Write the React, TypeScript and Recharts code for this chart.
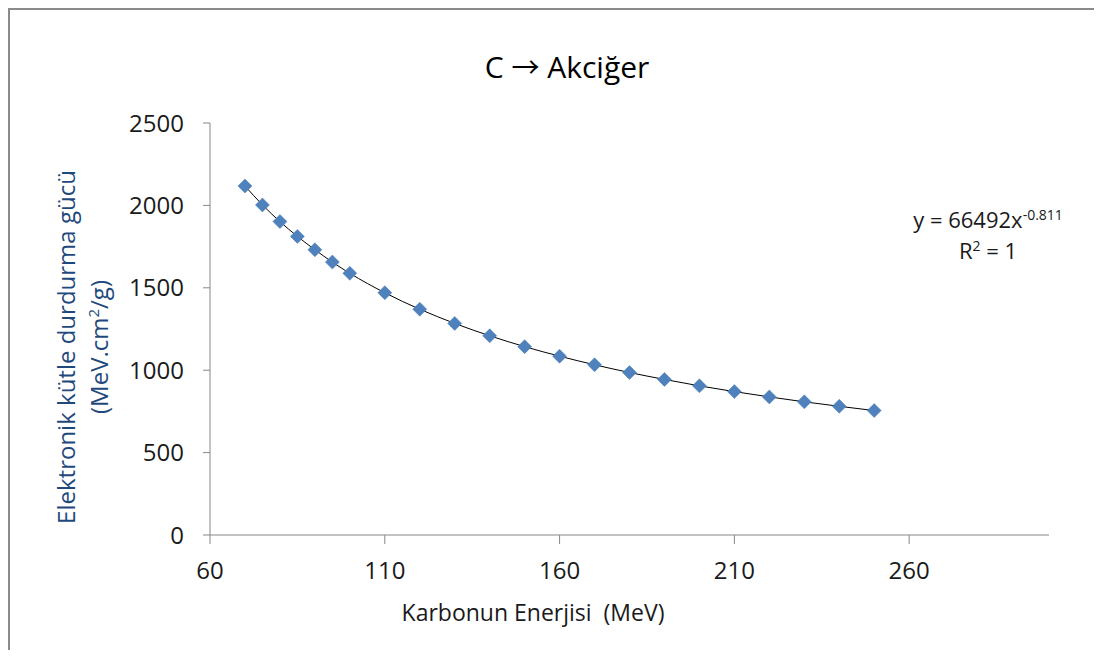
import React from 'react';
import { ComposedChart, Scatter, Line, XAxis, YAxis } from 'recharts';

// carbon energy (MeV) vs electronic mass stopping power in lung
const energies = [70, 75, 80, 85, 90, 95, 100, 110, 120, 130, 140, 150, 160, 170, 180, 190, 200, 210, 220, 230, 240, 250];
const stoppingPower = [2118, 2003, 1902, 1812, 1731, 1656, 1588, 1470, 1370, 1284, 1209, 1143, 1085, 1033, 986, 944, 905, 870, 838, 808, 781, 755];
const xTicks = [60, 110, 160, 210, 260];
const yTicks = [0, 500, 1000, 1500, 2000, 2500];

const data = energies.map((e, i) => ({ energy: e, power: stoppingPower[i] }));

const FONT = '"Open Sans", "Noto Sans", sans-serif';
const AXIS_GREY = '#878787';

const Diamond = (props: any) => {
  const { cx, cy } = props;
  if (cx == null || cy == null) return null;
  const r = 7;
  return (
    <polygon
      points={`${cx},${cy - r} ${cx + r},${cy} ${cx},${cy + r} ${cx - r},${cy}`}
      fill="#4F81BD"
      stroke="#4A7EBB"
      strokeWidth={0.5}
    />
  );
};

const App: React.FC = () => {
  return (
    <div style={{ position: 'relative', width: 1102, height: 658, margin: -8, background: '#fff', fontFamily: FONT, overflow: 'hidden' }}>
      {/* outer frame, bottom edge is outside the picture */}
      <div style={{ position: 'absolute', left: 7, top: 7, width: 1092, height: 700, border: '3px solid #8a8a8a', borderBottom: 'none' }} />

      <div style={{ position: 'absolute', left: 0, top: 0 }}>
        <ComposedChart width={1102} height={658} data={data} margin={{ top: 123, right: 53, bottom: 63, left: 80 }}>
          <XAxis
            type="number"
            dataKey="energy"
            domain={[60, 300]}
            ticks={xTicks}
            interval={0}
            stroke={AXIS_GREY}
            tickSize={9}
            tickMargin={18}
            tick={{ fill: '#1a1a1a', fontSize: 24 }}
            height={60}
            allowDataOverflow
          />
          <YAxis
            type="number"
            domain={[0, 2500]}
            ticks={yTicks}
            interval={0}
            stroke={AXIS_GREY}
            tickSize={7}
            tickMargin={19}
            tick={{ fill: '#1a1a1a', fontSize: 24 }}
            width={130}
          />
          <Scatter dataKey="power" shape={Diamond} isAnimationActive={false} />
          <Line type="monotone" dataKey="power" stroke="#000" strokeWidth={1} dot={false} activeDot={false} isAnimationActive={false} />
        </ComposedChart>
      </div>

      <div style={{ position: 'absolute', left: 367, top: 46, width: 400, textAlign: 'center', fontSize: 30, color: '#000', lineHeight: '40px' }}>
        C <span style={{ fontFamily: '"Noto Sans CJK JP", sans-serif', fontSize: 28 }}>→</span> Akciğer
      </div>

      <div
        style={{
          position: 'absolute',
          left: 82 - 250,
          top: 347 - 33,
          width: 500,
          height: 66,
          transform: 'rotate(-90deg)',
          textAlign: 'center',
          fontSize: 24,
          lineHeight: '33px',
          color: '#1F497D',
        }}
      >
        <div>Elektronik kütle durdurma gücü</div>
        <div>
          (MeV.cm<sup style={{ fontSize: 15, lineHeight: 0 }}>2</sup>/g)
        </div>
      </div>

      <div style={{ position: 'absolute', left: 373, top: 596, width: 320, textAlign: 'center', fontSize: 23, color: '#1a1a1a', lineHeight: '32px', whiteSpace: 'pre' }}>
        {'Karbonun Enerjisi  (MeV)'}
      </div>

      <div style={{ position: 'absolute', left: 888, top: 204, width: 200, textAlign: 'center', fontSize: 22, color: '#1a1a1a', lineHeight: '31px' }}>
        <div>
          y = 66492x<sup style={{ fontSize: 14, lineHeight: 0 }}>-0.811</sup>
        </div>
        <div>
          R<sup style={{ fontSize: 14, lineHeight: 0 }}>2</sup> = 1
        </div>
      </div>
    </div>
  );
};

export default App;
